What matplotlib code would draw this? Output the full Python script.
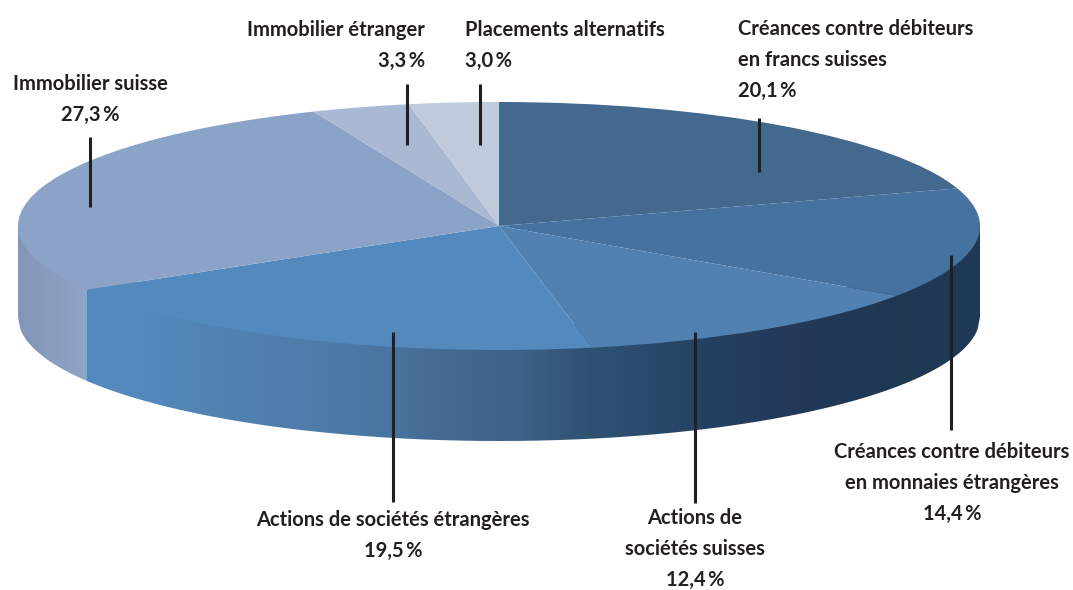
import numpy as np
from matplotlib import pyplot as plt
from matplotlib.colors import to_rgb
from matplotlib.patches import PathPatch
from matplotlib.path import Path
from matplotlib.transforms import Affine2D

W, H = 1073, 590

# Slices, clockwise from 12 o'clock
names = [
	["Créances contre débiteurs", "en francs suisses"],
	["Créances contre débiteurs", "en monnaies étrangères"],
	["Actions de", "sociétés suisses"],
	["Actions de sociétés étrangères"],
	["Immobilier suisse"],
	["Immobilier étranger"],
	["Placements alternatifs"],
]
values = [20.1, 14.4, 12.4, 19.5, 27.3, 3.3, 3.0]
value_labels = ["20,1\u2009%", "14,4\u2009%", "12,4\u2009%", "19,5\u2009%", "27,3\u2009%", "3,3\u2009%", "3,0\u2009%"]
colors = ["#43698f", "#46729f", "#5081b1", "#5389bd", "#8ba3c7", "#a9b9d3", "#c0cadb"]

# Geometry of the disc in pixels
cx, cy, rx, ry, depth = 499, 226, 481, 124, 91

# Rim colours, left to right
rim_x = [18, 60, 86.9, 87, 150, 250, 330, 390, 450, 520, 590, 650, 720, 800, 900, 980]
rim_c = ["#8496b8", "#8a9fc0", "#8fa7c9", "#5289bd", "#5288bb", "#5080ae", "#4e7aa8", "#48749f",
	"#44698f", "#3d6187", "#2f5273", "#2a4a6b", "#243f5f", "#22395a", "#1e3852", "#1e3a58"]

# (x, first baseline, alignment) of each label
label_pos = [(738, 35, "left"), (952, 458, "center"), (695, 524, "center"), (393, 526, "center"),
	(90, 90, "center"), (425, 36, "right"), (465, 36, "left")]
line_step = 31
# (x, y0, y1) of each leader
leaders = [(759, 118, 172), (951, 255, 430), (695, 332, 503), (393, 332, 502),
	(90, 137, 207), (407, 84, 145), (480, 84, 145)]

fig = plt.figure(figsize=(W / 100, H / 100), dpi=100)
ax = fig.add_axes([0, 0, 1, 1])
px = Affine2D().scale(1 / W, -1 / H).translate(0, 1) + fig.transFigure

# Rim of the disc, gradient clipped to the lower half band
rgb = np.array([to_rgb(c) for c in rim_c])
col_x = np.arange(rx * 2 + 1) + cx - rx
grad = np.stack([np.interp(col_x, rim_x, rgb[:, i]) for i in range(3)], axis=-1)[np.newaxis, :, :]
im = ax.imshow(grad, extent=(-1, 1, -1 - depth / ry, 0.1), aspect="auto", interpolation="nearest", zorder=1)
t = np.linspace(-1, 1, 400)
arc = -np.sqrt(1 - t ** 2)
verts = np.concatenate([np.column_stack([t, arc - depth / ry]), np.column_stack([t[::-1], np.minimum(arc[::-1] + 0.2, 0)])])
clip = PathPatch(Path(verts), transform=ax.transData, fc="none", ec="none")
ax.add_patch(clip)
im.set_clip_path(clip)

# Top face
wedges, _ = ax.pie(values, colors=colors, startangle=90, counterclock=False, wedgeprops={"linewidth": 0})
for w in wedges:
	w.set_zorder(2)

ax.set_aspect("auto")
ax.set_xlim(-cx / rx, (W - cx) / rx)
ax.set_ylim(-(H - cy) / ry, cy / ry)
ax.axis("off")

# Leaders and labels
for x, y0, y1 in leaders:
	ax.plot([x, x], [y0, y1], color="#231f20", lw=2.2, transform=px, zorder=3, solid_capstyle="butt")

for name, val, (x, y, ha) in zip(names, value_labels, label_pos):
	for i, line in enumerate(name + [val]):
		ax.text(x, y + i * line_step, line, transform=px, ha=ha, va="baseline", color="#231f20", fontsize=14.5,
			fontweight="bold", family=["Lato", "DejaVu Sans"], zorder=4)

fig.savefig("out.png", dpi=100)
